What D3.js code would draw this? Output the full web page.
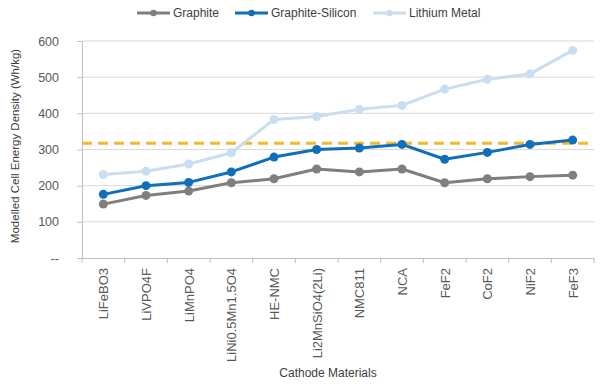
<!DOCTYPE html>
<html lang="en">
<head>
    <meta charset="UTF-8">
    <title>Modelled Cell Energy Density</title>
    <script src="https://d3js.org/d3.v7.min.js"></script>
    <style>
        body { margin: 0; background: #fff; font-family: "Liberation Sans", Arial, sans-serif; }
        .tick text { fill: #595959; }
    </style>
</head>
<body>
    <div id="chart"></div>
    <script>
        // Data
        const categories = ["LiFeBO3", "LiVPO4F", "LiMnPO4", "LiNi0.5Mn1.5O4", "HE-NMC",
            "Li2MnSiO4(2Li)", "NMC811", "NCA", "FeF2", "CoF2", "NiF2", "FeF3"];
        const graphite = [149, 173, 185, 208, 219, 246, 238, 246, 208, 219, 225, 229];
        const graphiteSilicon = [176, 200, 209, 238, 279, 300, 304, 314, 273, 292, 314, 326];
        const lithiumMetal = [231, 240, 260, 291, 383, 391, 411, 422, 467, 494, 509, 574];
        const targetLine = 317;
        const yTicks = [0, 100, 200, 300, 400, 500, 600];

        const series = [
            { name: "Graphite", values: graphite, color: "#7f7f7f" },
            { name: "Graphite-Silicon", values: graphiteSilicon, color: "#0f6fba" },
            { name: "Lithium Metal", values: lithiumMetal, color: "#c9def0" }
        ];

        const width = 600, height = 384;
        const margin = { top: 41, right: 6, bottom: 126, left: 82 };

        const svg = d3.select("#chart").append("svg")
            .attr("width", width)
            .attr("height", height);

        const x = d3.scalePoint()
            .domain(categories)
            .range([margin.left, width - margin.right])
            .padding(0.5);

        const y = d3.scaleLinear()
            .domain([0, 600])
            .range([height - margin.bottom, margin.top]);

        // gridlines
        svg.append("g")
            .selectAll("line")
            .data(yTicks.slice(1))
            .enter().append("line")
            .attr("x1", margin.left)
            .attr("x2", width - margin.right)
            .attr("y1", d => y(d))
            .attr("y2", d => y(d))
            .attr("stroke", "#d9d9d9")
            .attr("stroke-width", 1);

        // y axis
        const yAxis = svg.append("g")
            .attr("transform", `translate(${margin.left},0)`)
            .call(d3.axisLeft(y).tickValues(yTicks).tickSize(5)
                .tickFormat(d => d === 0 ? "--" : d));
        yAxis.selectAll("text")
            .attr("text-anchor", "end")
            .attr("x", -23)
            .style("font-size", "12.5px");
        yAxis.select(".domain").attr("stroke", "#bfbfbf");
        yAxis.selectAll(".tick line").attr("stroke", "#bfbfbf");

        // x axis
        const step = x.step();
        const xAxis = svg.append("g")
            .attr("transform", `translate(0,${y(0)})`)
            .call(d3.axisBottom(x).tickSize(0).tickPadding(0));
        xAxis.select(".domain").attr("stroke", "#bfbfbf");
        xAxis.selectAll(".tick text")
            .attr("transform", "rotate(-90)")
            .attr("text-anchor", "end")
            .attr("x", -10)
            .attr("y", 0)
            .attr("dy", "0.35em")
            .style("font-size", "13px");
        // tick marks between categories
        xAxis.append("g")
            .selectAll("line")
            .data(d3.range(categories.length + 1))
            .enter().append("line")
            .attr("x1", i => margin.left + i * step)
            .attr("x2", i => margin.left + i * step)
            .attr("y1", 0)
            .attr("y2", 5)
            .attr("stroke", "#bfbfbf");

        // dashed reference line
        svg.append("line")
            .attr("x1", margin.left)
            .attr("x2", width - margin.right)
            .attr("y1", y(targetLine))
            .attr("y2", y(targetLine))
            .attr("stroke", "#f2b826")
            .attr("stroke-width", 3)
            .attr("stroke-dasharray", "10,6");

        const line = d3.line()
            .x((d, i) => x(categories[i]))
            .y(d => y(d));

        // draw lithium first so it sits behind
        const drawOrder = [series[2], series[0], series[1]];
        drawOrder.forEach(s => {
            svg.append("path")
                .datum(s.values)
                .attr("fill", "none")
                .attr("stroke", s.color)
                .attr("stroke-width", 3)
                .attr("stroke-linejoin", "round")
                .attr("d", line);
            svg.append("g")
                .selectAll("circle")
                .data(s.values)
                .enter().append("circle")
                .attr("cx", (d, i) => x(categories[i]))
                .attr("cy", d => y(d))
                .attr("r", 4.5)
                .attr("fill", s.color);
        });

        // legend
        const legendItems = [
            { s: series[0], x: 137 },
            { s: series[1], x: 235 },
            { s: series[2], x: 373 }
        ];
        const legend = svg.append("g").attr("transform", "translate(0,13)");
        legendItems.forEach(item => {
            const g = legend.append("g").attr("transform", `translate(${item.x},0)`);
            g.append("line")
                .attr("x1", 0).attr("x2", 33)
                .attr("stroke", item.s.color)
                .attr("stroke-width", 3);
            g.append("circle")
                .attr("cx", 16.5).attr("r", 3.2)
                .attr("fill", item.s.color);
            g.append("text")
                .attr("x", 36)
                .attr("dy", "0.35em")
                .attr("fill", "#404040")
                .style("font-size", "12px")
                .text(item.s.name);
        });

        // axis titles
        svg.append("text")
            .attr("transform", "translate(15,146) rotate(-90)")
            .attr("text-anchor", "middle")
            .attr("dy", "0.35em")
            .attr("fill", "#404040")
            .style("font-size", "11.5px")
            .text("Modelled Cell Energy Density (Wh/kg)");

        svg.append("text")
            .attr("x", 328)
            .attr("y", 377)
            .attr("text-anchor", "middle")
            .attr("fill", "#404040")
            .style("font-size", "12px")
            .text("Cathode Materials");
    </script>
</body>
</html>
